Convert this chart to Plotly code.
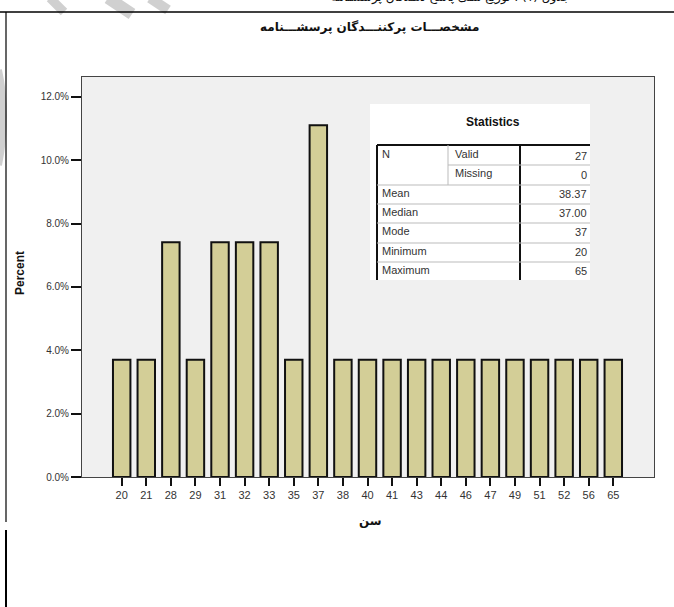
import plotly.graph_objects as go

ages = ["20", "21", "28", "29", "31", "32", "33", "35", "37", "38", "40",
        "41", "43", "44", "46", "47", "49", "51", "52", "56", "65"]
percent = [3.70, 3.70, 7.41, 3.70, 7.41, 7.41, 7.41, 3.70, 11.11, 3.70, 3.70,
           3.70, 3.70, 3.70, 3.70, 3.70, 3.70, 3.70, 3.70, 3.70, 3.70]
y_ticks = [0, 2, 4, 6, 8, 10, 12]
y_tick_labels = ["0.0%", "2.0%", "4.0%", "6.0%", "8.0%", "10.0%", "12.0%"]

stat_labels = ["N", "Mean", "Median", "Mode", "Minimum", "Maximum"]
n_sub = ["Valid", "Missing"]
n_vals = ["27", "0"]
stat_vals = ["38.37", "37.00", "37", "20", "65"]

title_text = "مشخصـــات پرکننـــدگان پرسشـــنامه"
x_title = "سن"
y_title = "Percent"
top_text = "جدول (۱) : توزیع سنی پاسخ دهندگان پرسشنامه"

W, H = 674, 607
L, R, T, B = 82, 654, 77, 477


def px(x):
    return (x - L) / (R - L)


def py(y):
    return (B - y) / (B - T)


def note(text, x, y, size, family="Liberation Sans, Arial", color="#333333",
         xanchor="center", yanchor="middle", angle=0):
    return dict(text=text, xref="paper", yref="paper", x=px(x), y=py(y),
                xanchor=xanchor, yanchor=yanchor, textangle=angle, showarrow=False,
                font=dict(family=family, size=size, color=color))


fig = go.Figure()
fig.add_trace(go.Bar(
    x=ages, y=percent, width=0.71,
    marker=dict(color="#D3CE97", line=dict(color="#111111", width=2)),
    hoverinfo="x+y",
))

shapes = []
annotations = []

# outer frame lines
shapes.append(dict(type="line", xref="paper", yref="paper",
                   x0=px(0), x1=px(674), y0=py(12), y1=py(12),
                   line=dict(color="black", width=1.5)))
shapes.append(dict(type="line", xref="paper", yref="paper",
                   x0=px(6), x1=px(6), y0=py(12), y1=py(522),
                   line=dict(color="black", width=1.2)))
shapes.append(dict(type="line", xref="paper", yref="paper",
                   x0=px(6), x1=px(6), y0=py(530), y1=py(607),
                   line=dict(color="black", width=2)))

# watermark arcs
for (x0, y0, x1, y1, w) in [(50, -2, 64, 12, 9), (108, -2, 132, 14, 12), (150, -2, 168, 10, 10)]:
    shapes.append(dict(type="line", xref="paper", yref="paper", layer="below",
                       x0=px(x0), x1=px(x1), y0=py(y0), y1=py(y1),
                       line=dict(color="#D0D0D0", width=w)))
shapes.append(dict(type="path", xref="paper", yref="paper", layer="below",
                   path="M {} {} Q {} {} {} {}".format(px(-2), py(70), px(8), py(115), px(-2), py(165)),
                   line=dict(color="#D0D0D0", width=8)))

# statistics table
shapes.append(dict(type="rect", xref="paper", yref="paper", layer="above",
                   x0=px(370), x1=px(590), y0=py(104), y1=py(280),
                   fillcolor="white", line=dict(width=0)))
thin = dict(color="#BBBBBB", width=1)
thick = dict(color="#111111", width=2)
shapes.append(dict(type="line", xref="paper", yref="paper", layer="above",
                   x0=px(377), x1=px(590), y0=py(145), y1=py(145), line=thick))
shapes.append(dict(type="line", xref="paper", yref="paper", layer="above",
                   x0=px(377), x1=px(377), y0=py(145), y1=py(280), line=thick))
shapes.append(dict(type="line", xref="paper", yref="paper", layer="above",
                   x0=px(520), x1=px(520), y0=py(145), y1=py(280), line=thick))
shapes.append(dict(type="line", xref="paper", yref="paper", layer="above",
                   x0=px(448), x1=px(448), y0=py(145), y1=py(185), line=thin))
shapes.append(dict(type="line", xref="paper", yref="paper", layer="above",
                   x0=px(448), x1=px(590), y0=py(165), y1=py(165), line=thin))
for yy in [185, 204, 223, 243, 262]:
    shapes.append(dict(type="line", xref="paper", yref="paper", layer="above",
                       x0=px(377), x1=px(590), y0=py(yy), y1=py(yy), line=thin))

annotations.append(note("<b>Statistics</b>", 493, 122, 12, color="#111111"))
row_y = [154, 193, 212, 231, 251, 270]
for lab, yy in zip(stat_labels, row_y):
    annotations.append(note(lab, 380, yy, 11, xanchor="left"))
for lab, val, yy in zip(n_sub, n_vals, [154, 173]):
    annotations.append(note(lab, 453, yy, 11, xanchor="left"))
    annotations.append(note(val, 589, yy + 2, 11, xanchor="right"))
for val, yy in zip(stat_vals, row_y[1:]):
    annotations.append(note(val, 589, yy + 1, 11, xanchor="right"))

# titles
annotations.append(note("<b>" + title_text + "</b>", 369, 27, 12,
                        family="DejaVu Sans", color="#111111"))
annotations.append(note(top_text, 450, -3, 12, family="DejaVu Sans", color="#111111"))
annotations.append(note("<b>" + y_title + "</b>", 20, 273, 12, color="#111111", angle=-90))
annotations.append(note("<b>" + x_title + "</b>", 370, 521, 12,
                        family="DejaVu Sans", color="#111111"))

fig.update_layout(
    width=W, height=H,
    margin=dict(l=L, r=W - R, t=T, b=H - B, pad=0),
    paper_bgcolor="white", plot_bgcolor="#F0F0F0",
    showlegend=False,
    shapes=shapes, annotations=annotations,
    xaxis=dict(type="category", range=[-1.615, 21.656], showgrid=False,
               showline=True, mirror=True, linecolor="#444444", linewidth=1,
               ticks="outside", ticklen=8, tickwidth=2, tickcolor="#111111",
               tickfont=dict(family="Liberation Sans, Arial", size=11, color="#333333"),
               zeroline=False, fixedrange=True),
    yaxis=dict(range=[0, 12.63], tickvals=y_ticks, ticktext=y_tick_labels,
               showgrid=False, showline=True, mirror=True, linecolor="#444444", linewidth=1,
               ticks="outside", ticklen=10, tickwidth=2, tickcolor="#111111",
               tickfont=dict(family="Liberation Sans, Arial", size=10, color="#333333"),
               zeroline=False, fixedrange=True),
)

fig.write_html("out.html", config={"displayModeBar": False},
               post_script="document.body.style.margin='0';document.body.style.overflow='hidden';")
